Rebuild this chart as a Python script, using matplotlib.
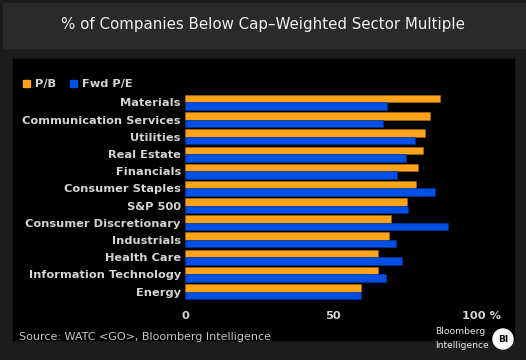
import matplotlib
matplotlib.use("Agg")
import matplotlib.pyplot as plt
from matplotlib.patches import Rectangle, Ellipse

sectors = ["Materials", "Communication Services", "Utilities", "Real Estate",
           "Financials", "Consumer Staples", "S&P 500", "Consumer Discretionary",
           "Industrials", "Health Care", "Information Technology", "Energy"]
pb = [86.1, 82.8, 81.0, 80.4, 78.7, 78.2, 75.0, 69.5, 68.9, 65.3, 65.3, 59.3]
fwd_pe = [68.2, 67.0, 77.7, 74.7, 71.7, 84.6, 75.5, 89.0, 71.3, 73.3, 68.0, 59.3]
xticks = [0, 50, 100]
xticklabels = ["0", "50", "100 %"]

ORANGE = '#ffa31c'
BLUE = '#0050e6'
LABEL = '#d4d4d4'

W, H = 526, 360
fig = plt.figure(figsize=(W / 100, H / 100), dpi=100)
fig.patch.set_facecolor('#1c1c1c')

def px(x, y, w, h):
    # pixel box (top-left origin) -> figure fraction
    return [x / W, 1 - (y + h) / H, w / W, h / H]

# title band and black panel
fig.patches.append(Rectangle((3 / W, 1 - 48 / H), 523 / W, 45 / H,
                             transform=fig.transFigure, color='#2a2a2a', zorder=-2))
fig.patches.append(Rectangle((13 / W, 1 - 340 / H), 501 / W, 281 / H,
                             transform=fig.transFigure, color='#000000', zorder=-2))

fig.text(263 / W, 1 - 25 / H, "% of Companies Below Cap\u2013Weighted Sector Multiple",
         color='#f0f0f0', fontsize=10.8, ha='center', va='center')

ax = fig.add_axes(px(185, 93.9, 296, 206.2))
ax.set_zorder(3)
ax.set_facecolor('none')
ypos = list(range(len(sectors)))
bh = 0.435
ax.barh([y - bh / 2 for y in ypos], pb, height=bh, color=ORANGE,
        edgecolor='#b06a00', linewidth=0.4, label='P/B')
ax.barh([y + bh / 2 for y in ypos], fwd_pe, height=bh, color=BLUE,
        edgecolor='#0035a0', linewidth=0.4, label='Fwd P/E')
ax.set_xlim(0, 100)
ax.set_ylim(11.5, -0.5)
ax.set_yticks(ypos)
ax.set_yticklabels(sectors, fontsize=8.2, fontweight='bold', color=LABEL)
ax.set_xticks(xticks)
ax.set_xticklabels(xticklabels, fontsize=8.2, fontweight='bold', color=LABEL)
ax.tick_params(axis='y', length=0, pad=3)
ax.tick_params(axis='x', length=0, pad=8)
for s in ax.spines.values():
    s.set_visible(False)

# legend
for lx, col, txt in [(23, ORANGE, "P/B"), (70, BLUE, "Fwd P/E")]:
    fig.patches.append(Rectangle((lx / W, 1 - 87 / H), 7 / W, 7 / H,
                                 transform=fig.transFigure, color=col))
    fig.text((lx + 12) / W, 1 - 83.5 / H, txt, color=LABEL, fontsize=8.2,
             fontweight='bold', ha='left', va='center')

fig.text(19 / W, 1 - 337 / H, "Source: WATC <GO>, Bloomberg Intelligence",
         color='#c8c8c8', fontsize=8, ha='left', va='center')
fig.text(435 / W, 1 - 332 / H, "Bloomberg", color='#e8e8e8', fontsize=6.6,
         ha='left', va='center')
fig.text(435 / W, 1 - 345 / H, "Intelligence", color='#e8e8e8', fontsize=6.6,
         ha='left', va='center')
fig.patches.append(Ellipse((503 / W, 1 - 339 / H), 20 / W, 20 / H,
                           transform=fig.transFigure, color='white'))
fig.text(503 / W, 1 - 339 / H, "BI", color='black', fontsize=6.5,
         fontweight='bold', ha='center', va='center')

fig.savefig("out.png", dpi=100, facecolor=fig.get_facecolor())
